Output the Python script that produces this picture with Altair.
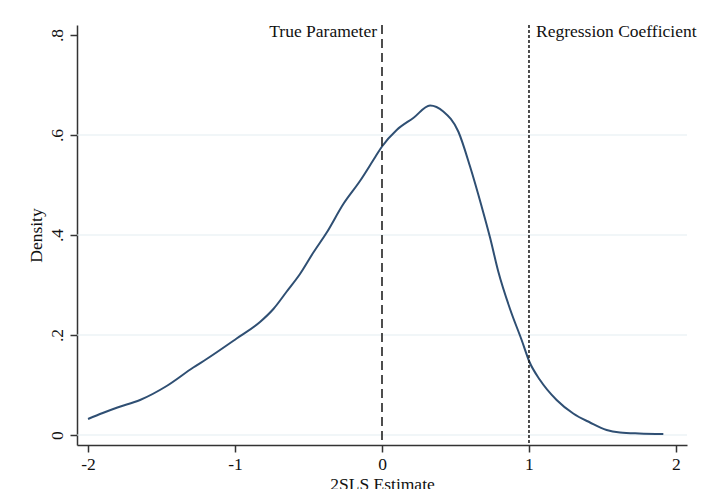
import altair as alt
import pandas as pd

# Kernel density curve of the 2SLS estimate
est_x = [-2.0, -1.9, -1.8, -1.646, -1.465, -1.284, -1.193, -0.989, -0.830, -0.739,
         -0.648, -0.558, -0.467, -0.376, -0.263, -0.150, -0.048, 0.0, 0.1, 0.213,
         0.327, 0.417, 0.519, 0.599, 0.678, 0.735, 0.791, 0.871, 0.950, 1.002,
         1.075, 1.188, 1.301, 1.415, 1.528, 1.619, 1.75, 1.914]
density = [0.032, 0.044, 0.055, 0.070, 0.098, 0.135, 0.152, 0.193, 0.226, 0.252,
           0.287, 0.322, 0.365, 0.405, 0.462, 0.508, 0.555, 0.577, 0.610, 0.634,
           0.659, 0.647, 0.607, 0.537, 0.457, 0.395, 0.327, 0.252, 0.190, 0.147,
           0.110, 0.070, 0.043, 0.025, 0.010, 0.005, 0.003, 0.002]

ref_x = [0, 1]
ref_labels = ["True Parameter", "Regression Coefficient"]
grid_y = [0, 0.2, 0.4, 0.6]
x_ticks = [-2, -1, 0, 1, 2]
y_ticks = [0, 0.2, 0.4, 0.6, 0.8]

FONT = "Liberation Serif"
FS = 17.5
XDOM = [-2.075, 2.075]
YDOM = [-0.02, 0.82]

curve_df = pd.DataFrame({"x": est_x, "y": density})
grid_df = pd.DataFrame({"y": grid_y})

xs = alt.Scale(domain=XDOM, nice=False, zero=False)
ys = alt.Scale(domain=YDOM, nice=False, zero=False)

x_axis = alt.Axis(values=x_ticks, title="2SLS Estimate", grid=False,
                  domainColor="#333333", domainWidth=1.5, tickColor="#333333",
                  tickWidth=1.5, tickSize=7, labelFont=FONT, labelFontSize=FS,
                  labelColor="#111111", labelPadding=3,
                  labelExpr="replace(format(datum.value, 'd'), '\u2212', '-')",
                  titleFont=FONT, titleFontSize=FS, titleFontWeight="normal",
                  titleColor="#111111", titlePadding=3)
y_axis = alt.Axis(values=y_ticks, title="Density", grid=False,
                  domainColor="#333333", domainWidth=1.5, tickColor="#333333",
                  tickWidth=1.5, tickSize=7, labelFont=FONT, labelFontSize=FS,
                  labelColor="#111111", labelAngle=-90, labelAlign="center",
                  labelBaseline="bottom", labelPadding=4,
                  labelExpr="datum.value == 0 ? '0' : replace(format(datum.value, '.1f'), '0.', '.')",
                  titleFont=FONT, titleFontSize=FS, titleFontWeight="normal",
                  titleColor="#111111", titlePadding=3)

grid = alt.Chart(grid_df).mark_rule(color="#e4edf1", strokeWidth=1.2).encode(
    y=alt.Y("y:Q", scale=ys, axis=y_axis)
)

curve = alt.Chart(curve_df).mark_line(color="#2f4f73", strokeWidth=2,
                                      interpolate="monotone").encode(
    x=alt.X("x:Q", scale=xs, axis=x_axis),
    y=alt.Y("y:Q", scale=ys, axis=y_axis),
)

line0 = alt.Chart(pd.DataFrame({"x": [ref_x[0]]})).mark_rule(
    color="#222222", strokeWidth=1.6, strokeDash=[9, 5]).encode(
    x=alt.X("x:Q", scale=xs), y=alt.value(0), y2=alt.value(420))
line1 = alt.Chart(pd.DataFrame({"x": [ref_x[1]]})).mark_rule(
    color="#222222", strokeWidth=1.6, strokeDash=[3, 2]).encode(
    x=alt.X("x:Q", scale=xs), y=alt.value(0), y2=alt.value(420))

txt0 = alt.Chart(pd.DataFrame({"x": [ref_x[0]], "t": [ref_labels[0]]})).mark_text(
    align="right", baseline="middle", dx=-5, font=FONT, fontSize=FS,
    color="#111111").encode(x=alt.X("x:Q", scale=xs), y=alt.value(7), text="t:N")
txt1 = alt.Chart(pd.DataFrame({"x": [ref_x[1]], "t": [ref_labels[1]]})).mark_text(
    align="left", baseline="middle", dx=7, font=FONT, fontSize=FS,
    color="#111111").encode(x=alt.X("x:Q", scale=xs), y=alt.value(7), text="t:N")

chart = alt.layer(grid, curve, line0, line1, txt0, txt1).properties(
    width=610, height=420, autosize="none",
    padding={"left": 77, "top": 25, "right": 14, "bottom": 44},
    background="white",
).configure_view(stroke=None)

chart.save("out.html", embed_options={"renderer": "svg", "actions": False})
